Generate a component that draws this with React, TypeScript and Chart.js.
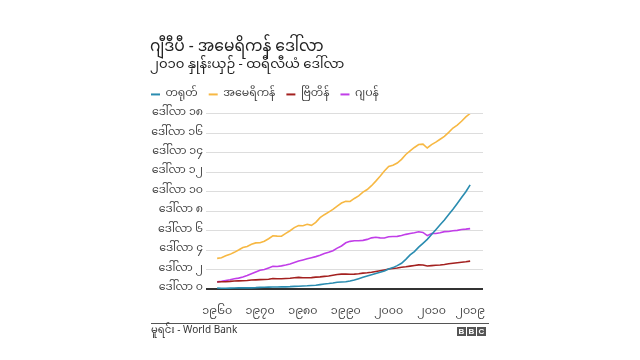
import React, { useEffect, useRef } from "react";
import { Chart, registerables, layouts } from "chart.js";

Chart.register(...registerables);

const years: number[] = Array.from({ length: 60 }, (_, i) => 1960 + i);

const china: number[] = [
  0.10, 0.08, 0.08, 0.09, 0.10, 0.12, 0.13, 0.12, 0.12, 0.14,
  0.17, 0.18, 0.19, 0.20, 0.21, 0.22, 0.22, 0.24, 0.27, 0.29,
  0.31, 0.33, 0.36, 0.39, 0.45, 0.51, 0.56, 0.62, 0.69, 0.72,
  0.75, 0.82, 0.93, 1.06, 1.20, 1.33, 1.46, 1.60, 1.72, 1.85,
  2.05, 2.20, 2.40, 2.65, 3.05, 3.50, 3.85, 4.30, 4.70, 5.10,
  5.60, 6.10, 6.60, 7.10, 7.65, 8.20, 8.80, 9.40, 10.00, 10.70,
];

const usa: number[] = [
  3.15, 3.22, 3.41, 3.56, 3.77, 4.01, 4.27, 4.38, 4.60, 4.74,
  4.75, 4.92, 5.17, 5.47, 5.44, 5.43, 5.72, 5.99, 6.31, 6.52,
  6.50, 6.66, 6.54, 6.85, 7.33, 7.64, 7.91, 8.18, 8.53, 8.84,
  9.01, 9.00, 9.31, 9.58, 9.96, 10.23, 10.62, 11.09, 11.59, 12.14,
  12.60, 12.72, 12.95, 13.33, 13.83, 14.20, 14.55, 14.85, 14.90, 14.50,
  14.85, 15.10, 15.40, 15.70, 16.10, 16.55, 16.85, 17.25, 17.70, 18.05,
];

const uk: number[] = [
  0.72, 0.74, 0.75, 0.78, 0.82, 0.84, 0.85, 0.87, 0.92, 0.94,
  0.96, 0.97, 1.01, 1.08, 1.06, 1.05, 1.08, 1.11, 1.15, 1.19,
  1.16, 1.15, 1.17, 1.22, 1.25, 1.30, 1.34, 1.41, 1.49, 1.53,
  1.54, 1.52, 1.53, 1.57, 1.63, 1.67, 1.72, 1.80, 1.88, 1.96,
  2.05, 2.10, 2.16, 2.23, 2.28, 2.35, 2.42, 2.48, 2.46, 2.36,
  2.40, 2.44, 2.47, 2.52, 2.59, 2.65, 2.70, 2.75, 2.80, 2.87,
];

const japan: number[] = [
  0.74, 0.80, 0.87, 0.95, 1.06, 1.12, 1.24, 1.38, 1.56, 1.75,
  1.93, 2.01, 2.17, 2.34, 2.31, 2.38, 2.47, 2.58, 2.72, 2.87,
  2.98, 3.10, 3.21, 3.33, 3.47, 3.65, 3.77, 3.94, 4.20, 4.42,
  4.75, 4.90, 4.96, 4.96, 5.00, 5.10, 5.26, 5.32, 5.26, 5.25,
  5.38, 5.40, 5.41, 5.50, 5.62, 5.70, 5.78, 5.88, 5.82, 5.49,
  5.70, 5.70, 5.78, 5.90, 5.92, 5.99, 6.03, 6.12, 6.16, 6.21,
];

const seriesNames: string[] = ["တရုတ်", "အမေရိကန်", "ဗြိတိန်", "ဂျပန်"];
const seriesColors: string[] = ["#2a8cb0", "#f7b843", "#a3201f", "#c13ee8"];

const yTickValues: number[] = [0, 2, 4, 6, 8, 10, 12, 14, 16, 18];
const yTickLabels: string[] = [
  "ဒေါ်လာ ၀", "ဒေါ်လာ ၂", "ဒေါ်လာ ၄", "ဒေါ်လာ ၆", "ဒေါ်လာ ၈",
  "ဒေါ်လာ ၁၀", "ဒေါ်လာ ၁၂", "ဒေါ်လာ ၁၄", "ဒေါ်လာ ၁၆", "ဒေါ်လာ ၁၈",
];
const xTickValues: number[] = [1960, 1970, 1980, 1990, 2000, 2010, 2019];
const xTickLabels: string[] = ["၁၉၆၀", "၁၉၇၀", "၁၉၈၀", "၁၉၉၀", "၂၀၀၀", "၂၀၁၀", "၂၀၁၉"];

const titleText = "ဂျီဒီပီ - အမေရိကန် ဒေါ်လာ";
const subtitleText = "၂၀၁၀ နှုန်းယှဉ် - ထရီလီယံ ဒေါ်လာ";
const sourceText = "မူရင်း - World Bank";

const FONT = "'Noto Sans Myanmar', 'Padauk', 'Myanmar Text', 'Noto Sans', Arial, sans-serif";
const LEGEND_GAP = 4;
const LEGEND_SHIFT = 10;

const spacerPlugin: any = {
  id: "legendSpacer",
  beforeInit(chart: any) {
    const box: any = {
      position: "top",
      weight: 0,
      fullSize: true,
      options: {},
      left: 0, top: 0, right: 0, bottom: 0, width: 0, height: 0,
      isHorizontal() { return true; },
      update(maxWidth: number) {
        this.width = maxWidth;
        this.height = LEGEND_GAP;
      },
      draw() {},
    };
    layouts.addBox(chart, box);
  },
  afterLayout(chart: any) {
    const lg = chart.legend;
    if (lg) {
      lg.left -= LEGEND_SHIFT;
      lg.right -= LEGEND_SHIFT;
    }
  },
};

export default function App() {
  const ref = useRef<HTMLCanvasElement | null>(null);

  useEffect(() => {
    document.body.style.margin = "0";
    const canvas = ref.current;
    if (!canvas) return;
    const allSeries = [china, usa, uk, japan];
    const chart = new Chart(canvas, {
      type: "line",
      data: {
        datasets: allSeries.map((s, i) => ({
          label: seriesNames[i],
          data: s.map((v, j) => ({ x: years[j], y: v })),
          borderColor: seriesColors[i],
          backgroundColor: seriesColors[i],
          borderWidth: 1.6,
          pointRadius: 0,
          tension: 0,
        })),
      },
      options: {
        animation: false,
        responsive: false,
        maintainAspectRatio: false,
        layout: { padding: { left: 150, right: 157, top: 40, bottom: 41 } },
        plugins: {
          tooltip: { enabled: false },
          title: {
            display: true,
            text: titleText,
            align: "start",
            color: "#222",
            font: { family: FONT, size: 15.5, weight: "normal" },
            padding: { top: 0, bottom: 0 },
          },
          subtitle: {
            display: true,
            text: subtitleText,
            align: "start",
            color: "#222",
            font: { family: FONT, size: 13.2, weight: "normal" },
            padding: { top: 0, bottom: 3.5 },
          },
          legend: {
            display: true,
            align: "start",
            labels: {
              boxWidth: 9,
              boxHeight: 2,
              color: "#444",
              padding: 11,
              font: { family: FONT, size: 11 },
              generateLabels: (c: any) => {
                const base = (Chart as any).defaults.plugins.legend.labels.generateLabels(c);
                return base.map((it: any) => ({ ...it, lineWidth: 0, fillStyle: it.strokeStyle }));
              },
            },
          },
        },
        scales: {
          x: {
            type: "linear",
            min: 1957.4,
            max: 2022,
            afterBuildTicks: (scale: any) => {
              scale.ticks = xTickValues.map((v) => ({ value: v }));
            },
            afterFit: (scale: any) => {
              scale.height = 30;
            },
            ticks: {
              autoSkip: false,
              maxRotation: 0,
              padding: 9,
              color: "#444",
              font: { family: FONT, size: 11 },
              callback: (v: any) => {
                const i = xTickValues.indexOf(Number(v));
                return i >= 0 ? xTickLabels[i] : "";
              },
            },
            grid: { display: false },
            border: { display: false },
          },
          y: {
            min: 0,
            max: 18,
            afterBuildTicks: (scale: any) => {
              scale.ticks = yTickValues.map((v) => ({ value: v }));
            },
            afterFit: (scale: any) => {
              scale.width = 56;
            },
            ticks: {
              padding: 3,
              color: "#444",
              font: { family: FONT, size: 11 },
              callback: (v: any) => {
                const i = yTickValues.indexOf(Number(v));
                return i >= 0 ? yTickLabels[i] : "";
              },
            },
            grid: {
              drawTicks: false,
              color: (ctx: any) => (ctx.tick && ctx.tick.value === 0 ? "#333" : "#dddddd"),
              lineWidth: (ctx: any) => (ctx.tick && ctx.tick.value === 0 ? 2 : 1),
            },
            border: { display: false },
          },
        },
      },
      plugins: [spacerPlugin],
    });
    return () => chart.destroy();
  }, []);

  return (
    <div style={{ position: "fixed", left: 0, top: 0, width: 640, height: 360, background: "#fff", overflow: "hidden" }}>
      <canvas ref={ref} width={640} height={360} style={{ width: 640, height: 360, display: "block" }} />
      <div style={{ position: "absolute", left: 151, top: 323, width: 338, borderTop: "1px solid #555" }} />
      <div style={{ position: "absolute", left: 151, top: 324, fontFamily: FONT, fontSize: 10, color: "#333", lineHeight: "14px" }}>
        {sourceText}
      </div>
      <div style={{ position: "absolute", left: 457, top: 327, display: "flex", gap: 1 }}>
        {["B", "B", "C"].map((c, i) => (
          <div key={i} style={{ width: 9, height: 9, background: "#555", color: "#fff", fontFamily: "Arial, sans-serif", fontWeight: "bold", fontSize: 8, lineHeight: "9px", textAlign: "center" }}>
            {c}
          </div>
        ))}
      </div>
    </div>
  );
}
